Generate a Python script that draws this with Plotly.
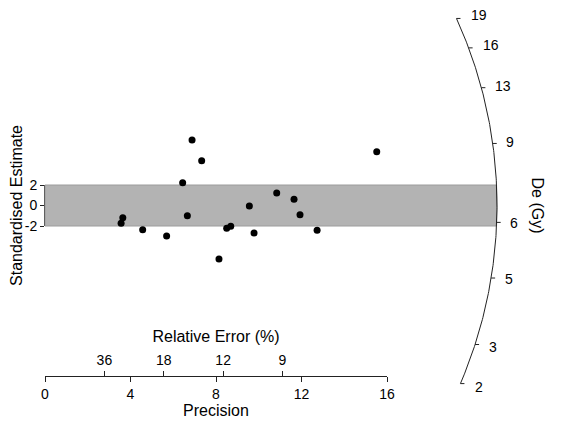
import numpy as np
import plotly.graph_objects as go

# ---- data ----
precision = [6.88, 7.33, 6.44, 15.52, 10.84, 11.65, 9.56, 11.93, 6.66, 3.64,
             3.56, 4.57, 5.69, 8.50, 8.69, 9.78, 12.73, 8.14]
std_estimate = [6.39, 4.37, 2.22, 5.25, 1.22, 0.60, -0.05, -0.90, -1.00, -1.19,
                -1.74, -2.36, -2.98, -2.22, -2.03, -2.68, -2.42, -5.22]

precision_ticks = [0, 4, 8, 12, 16]
rel_error_labels = [36, 18, 12, 9]            # percent
z_ticks = [2, 0, -2]

de_tick_labels = ["19", "16", "13", "9", "6", "5", "3", "2"]
de_tick_slopes = [0.948, 0.776, 0.563, 0.289, -0.078, -0.339, -0.674, -0.894]

band_limits = [-2, 2]

# ---- geometry (pixel scale of the figure; page has an 8px body margin) ----
W, H = 563, 425
OFF = 8
x0_px, z0_px = 45.0 - OFF, 205.5 - OFF
axis_y_px = 376 - OFF
kx, kz = 21.375, 10.25
R = 452.0

x3_range = [-x0_px / kx, (W - x0_px) / kx]
y3_range = [-(H - z0_px) / kz, z0_px / kz]

def arc_angle(slope):
    return np.arctan(slope * kz / kx)

def arc_point(slope):
    th = arc_angle(slope)
    return (R * np.cos(th) / kx, R * np.sin(th) / kz)

fig = go.Figure()

# invisible traces so the real axes are drawn
fig.add_trace(go.Scatter(x=[0, 16], y=[-2, 2], mode="markers", marker=dict(opacity=0),
                         xaxis="x", yaxis="y", hoverinfo="skip", showlegend=False))
fig.add_trace(go.Scatter(x=[0, 16], y=[-2, 2], mode="markers", marker=dict(opacity=0),
                         xaxis="x2", yaxis="y", hoverinfo="skip", showlegend=False))

# band (from origin to arc)
zb = np.linspace(band_limits[0], band_limits[1], 20)
xb = np.sqrt(R**2 - (zb * kz) ** 2) / kx
bx = [0] + list(xb) + [0, 0]
bz = [band_limits[0]] + list(zb) + [band_limits[1], band_limits[0]]
fig.add_trace(go.Scatter(x=bx, y=bz, mode="lines", fill="toself",
                         fillcolor="#b3b3b3", line=dict(color="#9c9c9c", width=1),
                         xaxis="x3", yaxis="y3", hoverinfo="skip", showlegend=False))

# points
fig.add_trace(go.Scatter(x=precision, y=std_estimate, mode="markers",
                         marker=dict(color="black", size=7),
                         xaxis="x3", yaxis="y3", showlegend=False))

# arc
th_a = np.linspace(arc_angle(max(de_tick_slopes)), arc_angle(min(de_tick_slopes)), 200)
fig.add_trace(go.Scatter(x=R * np.cos(th_a) / kx, y=R * np.sin(th_a) / kz, mode="lines",
                         line=dict(color="#222", width=1),
                         xaxis="x3", yaxis="y3", hoverinfo="skip", showlegend=False))

# arc ticks (short horizontal marks) and labels
tx, tz = [], []
for s, lab in zip(de_tick_slopes, de_tick_labels):
    ax_, az_ = arc_point(s)
    th = arc_angle(s)
    tx += [ax_, ax_ + 4 / kx, None]
    tz += [az_, az_, None]
    fig.add_annotation(x=ax_, y=az_, xref="x3", yref="y3", text=lab, showarrow=False,
                       xanchor="left", xshift=11 + 3 * abs(np.sin(th)),
                       yshift=8 * np.sin(th), font=dict(size=14, color="black"))
fig.add_trace(go.Scatter(x=tx, y=tz, mode="lines", line=dict(color="#222", width=1),
                         xaxis="x3", yaxis="y3", hoverinfo="skip", showlegend=False))

fig.add_annotation(x=(537 - OFF - x0_px) / kx, y=0, xref="x3", yref="y3", text="De (Gy)",
                   textangle=90, showarrow=False, font=dict(size=16, color="black"))

font = dict(family="Liberation Sans, Arial, sans-serif", size=14, color="black")

fig.update_layout(
    width=W, height=H,
    margin=dict(l=0, r=0, t=0, b=0),
    paper_bgcolor="white", plot_bgcolor="rgba(0,0,0,0)",
    font=font,
    xaxis=dict(domain=[x0_px / W, (x0_px + 16 * kx) / W], range=[0, 16],
               anchor="free", position=(H - axis_y_px) / H,
               tickvals=precision_ticks, ticks="outside", ticklen=5,
               tickcolor="#222", showline=True, linecolor="#222", linewidth=1,
               showgrid=False, zeroline=False, automargin=False,
               title=dict(text="Precision", font=dict(size=16), standoff=4)),
    xaxis2=dict(overlaying="x", range=[0, 16], side="top",
                anchor="free", position=(H - axis_y_px) / H,
                tickvals=[100 / r for r in rel_error_labels],
                ticktext=[str(r) for r in rel_error_labels],
                ticks="outside", ticklen=5, tickcolor="#222",
                showline=False, showgrid=False, zeroline=False, automargin=False,
                title=dict(text="Relative Error (%)", font=dict(size=16), standoff=4)),
    yaxis=dict(domain=[(H - (226 - OFF)) / H, (H - (185 - OFF)) / H], range=[-2, 2],
               anchor="x", tickvals=z_ticks, ticktext=["2", "0", "-2"],
               ticks="outside", ticklen=4, tickcolor="#222",
               showline=True, linecolor="#222", linewidth=1,
               showgrid=False, zeroline=False, automargin=False,
               title=dict(text="Standardised Estimate", font=dict(size=16), standoff=1)),
    xaxis3=dict(domain=[0, 1], range=x3_range, anchor="y3", visible=False),
    yaxis3=dict(domain=[0, 1], range=y3_range, anchor="x3", visible=False),
)

fig.write_html("out.html")
